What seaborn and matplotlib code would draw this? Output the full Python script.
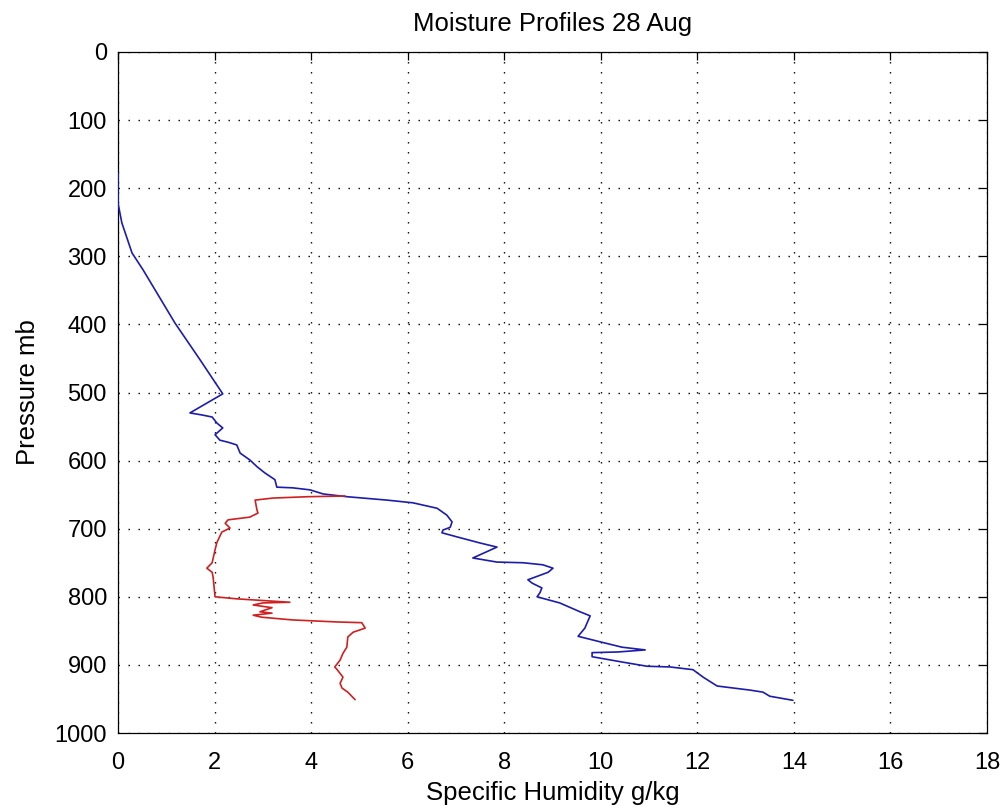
import numpy as np
import pandas as pd
import matplotlib
matplotlib.use("Agg")
import matplotlib.pyplot as plt
import seaborn as sns

# Blue profile (specific humidity g/kg vs pressure mb)
blue_q = [0.0, 0.0, 0.08, 0.29, 0.52, 1.18, 1.70, 2.17, 1.49, 1.74, 1.95, 2.05, 2.17, 2.01, 2.11,
          2.28, 2.46, 2.53, 2.73, 2.88, 3.04, 3.25, 3.29, 3.62, 3.98, 4.25, 4.74, 5.57, 6.11, 6.61,
          6.81, 6.92, 6.88, 6.73, 6.71, 7.02, 7.50, 7.85, 7.35, 7.85, 8.39, 8.80, 9.01, 8.91, 8.49,
          8.58, 8.78, 8.74, 8.68, 9.15, 9.57, 9.78, 9.67, 9.53, 9.98, 10.44, 10.92, 10.36, 9.82,
          9.82, 9.98, 10.46, 10.96, 11.43, 11.91, 12.12, 12.41, 13.09, 13.36, 13.50, 13.98]
blue_p = [177, 222, 251, 295, 320, 398, 452, 502, 530, 533, 536, 545, 552, 562, 570,
          573, 577, 589, 599, 609, 618, 628, 639, 640, 643, 649, 653, 658, 662, 670,
          680, 690, 698, 702, 706, 712, 721, 727, 743, 749, 750, 753, 758, 764, 775,
          780, 787, 794, 800, 809, 822, 828, 846, 858, 866, 874, 878, 881, 882,
          888, 890, 896, 902, 903, 907, 918, 931, 937, 940, 946, 952]

# Red profile
red_q = [4.70, 3.94, 3.21, 2.84, 2.88, 2.90, 2.73, 2.28, 2.22, 2.32, 2.15, 2.05, 2.01, 1.95,
         1.84, 1.95, 1.97, 2.01, 2.46, 3.56, 3.00, 2.80, 3.19, 2.94, 3.19, 2.80, 2.98, 3.62,
         4.56, 5.05, 5.12, 4.87, 4.76, 4.74, 4.66, 4.60, 4.49, 4.54, 4.66, 4.60, 4.64, 4.76, 4.91]
red_p = [652, 653, 655, 658, 673, 677, 683, 687, 692, 699, 705, 720, 731, 750,
         758, 764, 771, 800, 803, 808, 809, 812, 816, 822, 824, 827, 830, 834,
         837, 838, 846, 852, 859, 874, 883, 893, 903, 907, 918, 927, 934, 940, 951]

x_ticks = list(range(0, 19, 2))
y_ticks = list(range(0, 1001, 100))

sns.set_theme(style="white")
plt.rcParams['font.family'] = ['Liberation Sans', 'DejaVu Sans']
plt.rcParams['text.color'] = 'black'
plt.rcParams['axes.labelcolor'] = 'black'

fig = plt.figure(figsize=(10.03, 8.09), dpi=100)
ax = fig.add_axes([118/1003, 1-733/809, (987-118)/1003, (733-52)/809])

sns.lineplot(x=blue_q, y=blue_p, sort=False, estimator=None, color="#1c1cae", lw=1.2,
             ax=ax, zorder=3)
sns.lineplot(x=red_q, y=red_p, sort=False, estimator=None, color="#d02020", lw=1.2,
             ax=ax, zorder=3)

ax.set_xlim(0, 18)
ax.set_ylim(1000, 0)
ax.set_xticks(x_ticks)
ax.set_yticks(y_ticks)
ax.grid(True, color="black", linestyle=(0, (1, 6.2)), linewidth=1.0)
for s in ax.spines.values():
    s.set_color("black")
    s.set_linewidth(0.9)
ax.tick_params(direction="in", length=6, width=0.9, top=True, right=True,
               labelsize=17, colors="black")
ax.tick_params(axis="x", pad=14)
ax.tick_params(axis="y", pad=8)
ax.set_xlabel("Specific Humidity g/kg", fontsize=18.5, labelpad=5)
ax.set_ylabel("Pressure mb", fontsize=18.5, labelpad=10)
ax.set_title("Moisture Profiles 28 Aug", fontsize=18.5, pad=15)

fig.savefig("out.png", dpi=100, facecolor="white")
